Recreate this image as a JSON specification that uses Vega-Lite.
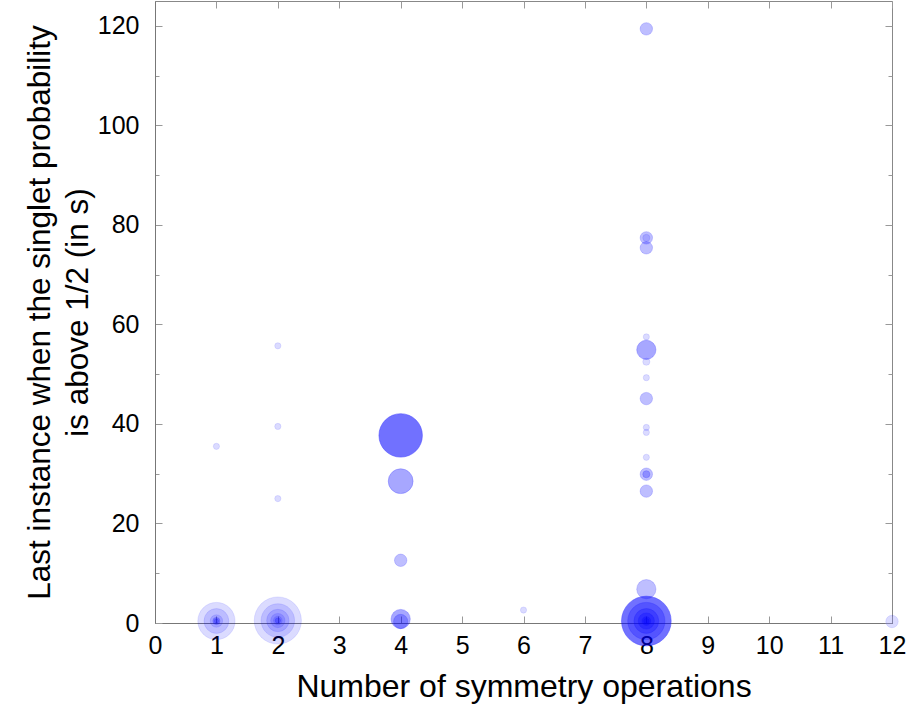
{
  "$schema": "https://vega.github.io/schema/vega-lite/v6.json",
  "autosize": "none",
  "width": 737,
  "height": 622,
  "padding": {"left": 155, "top": 1, "right": 21, "bottom": 90},
  "config": {
    "font": "Liberation Sans",
    "view": {"stroke": "#888888", "strokeWidth": 1},
    "axis": {"grid": false, "labelColor": "#000000", "titleColor": "#000000", "titleFontWeight": "normal", "domainColor": "#777777", "tickColor": "#999999", "labelFlush": false}
  },
  "data": {
    "values": [
      {"ops": 1, "t": 0.4, "n": 6, "k": 1},
      {"ops": 1, "t": 0.4, "n": 4, "k": 1},
      {"ops": 1, "t": 0.4, "n": 2, "k": 1},
      {"ops": 1, "t": 0.4, "n": 1.15, "k": 2},
      {"ops": 1, "t": 0.4, "n": 0.7, "k": 2},
      {"ops": 1, "t": 35.5, "n": 1, "k": 1},
      {"ops": 2, "t": 0.5, "n": 7.6, "k": 1},
      {"ops": 2, "t": 0.5, "n": 5.4, "k": 1},
      {"ops": 2, "t": 0.5, "n": 3.6, "k": 1},
      {"ops": 2, "t": 0.5, "n": 2.3, "k": 1},
      {"ops": 2, "t": 0.5, "n": 1.4, "k": 1},
      {"ops": 2, "t": 0.5, "n": 0.85, "k": 2},
      {"ops": 2, "t": 25.0, "n": 1, "k": 1},
      {"ops": 2, "t": 39.5, "n": 1, "k": 1},
      {"ops": 2, "t": 55.7, "n": 1, "k": 1},
      {"ops": 4, "t": 0.8, "n": 3.1, "k": 3},
      {"ops": 4, "t": 0.3, "n": 2.3, "k": 2},
      {"ops": 4, "t": 12.6, "n": 2, "k": 2},
      {"ops": 4, "t": 28.5, "n": 4, "k": 3},
      {"ops": 4, "t": 37.7, "n": 7, "k": 7},
      {"ops": 6, "t": 2.6, "n": 1, "k": 1},
      {"ops": 8, "t": 0.4, "n": 8, "k": 7},
      {"ops": 8, "t": 0.4, "n": 6, "k": 2},
      {"ops": 8, "t": 0.4, "n": 4, "k": 2},
      {"ops": 8, "t": 0.4, "n": 2.6, "k": 2},
      {"ops": 8, "t": 0.4, "n": 1.4, "k": 2},
      {"ops": 8, "t": 0.4, "n": 0.85, "k": 2},
      {"ops": 8, "t": 6.8, "n": 3.1, "k": 2},
      {"ops": 8, "t": 26.5, "n": 2, "k": 2},
      {"ops": 8, "t": 29.9, "n": 2, "k": 2},
      {"ops": 8, "t": 29.9, "n": 1.15, "k": 2},
      {"ops": 8, "t": 33.3, "n": 1, "k": 1},
      {"ops": 8, "t": 38.3, "n": 1, "k": 1},
      {"ops": 8, "t": 39.3, "n": 1, "k": 1},
      {"ops": 8, "t": 45.1, "n": 2, "k": 2},
      {"ops": 8, "t": 49.3, "n": 1, "k": 1},
      {"ops": 8, "t": 52.5, "n": 1.15, "k": 1},
      {"ops": 8, "t": 54.9, "n": 3.1, "k": 3},
      {"ops": 8, "t": 57.5, "n": 1, "k": 1},
      {"ops": 8, "t": 75.4, "n": 2, "k": 2},
      {"ops": 8, "t": 77.4, "n": 2, "k": 2},
      {"ops": 8, "t": 77.4, "n": 1.15, "k": 1},
      {"ops": 8, "t": 119.4, "n": 2, "k": 2},
      {"ops": 12, "t": 0.3, "n": 2, "k": 1}
    ]
  },
  "resolve": {"axis": {"x": "independent", "y": "independent"}},
  "layer": [
    {
      "mark": {"type": "point", "opacity": 0},
      "encoding": {
        "x": {"field": "ops", "type": "quantitative", "scale": {"domain": [0, 12], "nice": false},
          "axis": {"orient": "top", "labels": false, "title": null, "domain": false, "values": [0,1,2,3,4,5,6,7,8,9,10,11,12], "tickSize": -7}},
        "y": {"field": "t", "type": "quantitative", "scale": {"domain": [0, 125], "nice": false, "zero": false},
          "axis": {"orient": "right", "labels": false, "title": null, "domain": false, "values": [0,10,20,30,40,50,60,70,80,90,100,110,120],
            "tickSize": {"condition": {"test": "datum.value % 20 !== 0", "value": -4}, "value": -7}}}
      }
    },
    {
      "mark": {"type": "point", "opacity": 0},
      "encoding": {
        "x": {"field": "ops", "type": "quantitative", "scale": {"domain": [0, 12], "nice": false},
          "axis": {"orient": "bottom", "labels": false, "title": null, "domain": false, "values": [0,1,2,3,4,5,6,7,8,9,10,11,12], "tickSize": -7}},
        "y": {"field": "t", "type": "quantitative", "scale": {"domain": [0, 125], "nice": false, "zero": false},
          "axis": {"orient": "left", "labels": false, "title": null, "domain": false, "values": [0,10,20,30,40,50,60,70,80,90,100,110,120],
            "tickSize": {"condition": {"test": "datum.value % 20 !== 0", "value": -4}, "value": -7}}}
      }
    },
    {
      "mark": {"type": "point", "filled": true, "shape": "circle", "color": "#0000ff", "stroke": "#0000ff", "strokeWidth": 0.7},
      "encoding": {
        "x": {"field": "ops", "type": "quantitative", "scale": {"domain": [0, 12], "nice": false},
          "axis": {"orient": "bottom", "ticks": false, "values": [0,1,2,3,4,5,6,7,8,9,10,11,12], "labelFontSize": 25, "labelPadding": 10,
            "title": "Number of symmetry operations", "titleFontSize": 32, "titlePadding": 13}},
        "y": {"field": "t", "type": "quantitative", "scale": {"domain": [0, 125], "nice": false, "zero": false},
          "axis": {"orient": "left", "ticks": false, "values": [0,20,40,60,80,100,120], "labelFontSize": 25, "labelPadding": 16,
            "title": ["Last instance when the singlet probability", "is above 1/2 (in s)"], "titleFontSize": 31.5, "titleLineHeight": 38, "titlePadding": 3}},
        "size": {"field": "n", "type": "quantitative", "scale": {"type": "pow", "exponent": 2, "domain": [0, 8], "range": [0, 2463]}, "legend": null},
        "fillOpacity": {"field": "k", "type": "quantitative", "scale": {"domain": [1, 2, 3, 4, 5, 6, 7], "range": [0.2, 0.36, 0.49, 0.59, 0.67, 0.74, 0.79]}, "legend": null},
        "strokeOpacity": {"field": "k", "type": "quantitative", "scale": {"domain": [1, 2, 3, 4, 5, 6, 7], "range": [0.2, 0.36, 0.49, 0.59, 0.67, 0.74, 0.79]}, "legend": null}
      }
    }
  ]
}
